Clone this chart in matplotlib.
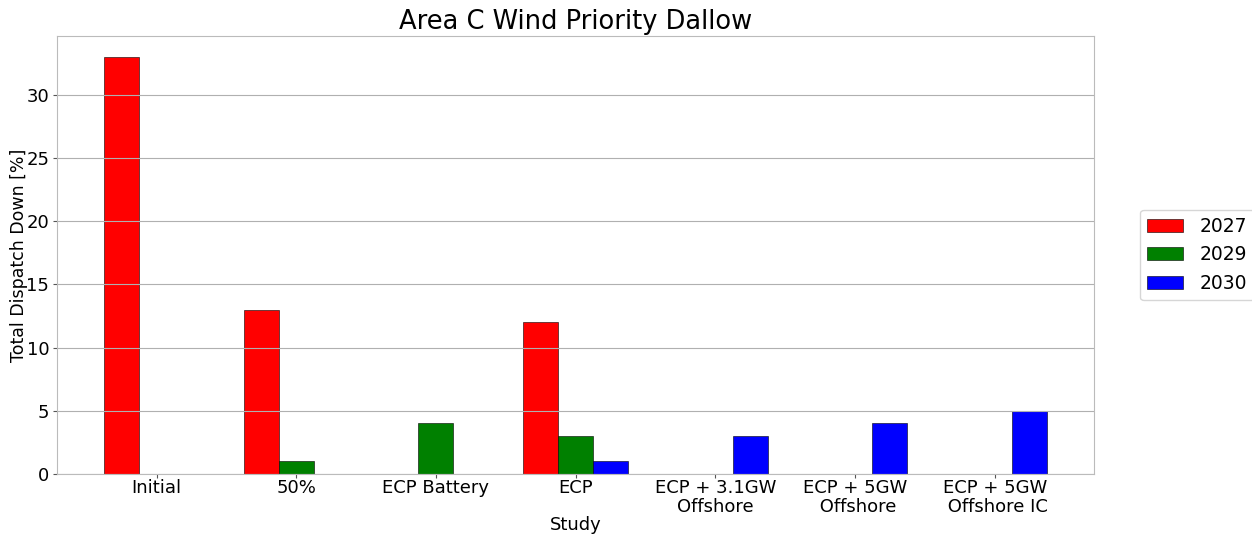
import matplotlib
matplotlib.use('Agg')
import matplotlib.pyplot as plt
import numpy as np

studies = ['Initial', '50%', 'ECP Battery', 'ECP', 'ECP + 3.1GW\nOffshore',
           'ECP + 5GW\n Offshore', 'ECP + 5GW\n Offshore IC']
years = ['2027', '2029', '2030']
dd_2027 = [33, 13, 0, 12, 0, 0, 0]
dd_2029 = [0, 1, 4, 3, 0, 0, 0]
dd_2030 = [0, 0, 0, 1, 3, 4, 5]
colors = ['red', 'green', 'blue']

fig = plt.figure(figsize=(12.52, 5.37), dpi=100)
ax = fig.add_axes([0.0455, 0.1173, 0.8285, 0.8157])

x = np.arange(len(studies))
width = 0.25
for i, (vals, year) in enumerate(zip([dd_2027, dd_2029, dd_2030], years)):
    ax.bar(x + (i - 1) * width, vals, width, color=colors[i], label=year,
           edgecolor='black', linewidth=0.4)

ax.set_xticks(x)
ax.set_xticklabels(studies, fontsize=13, linespacing=1.1)
ax.tick_params(axis='y', labelsize=13)
ax.tick_params(colors='#555555', labelcolor='black', length=3, pad=2.5)
ax.tick_params(axis='x', pad=0.5)
ax.yaxis.grid(True, color='#b0b0b0', linewidth=0.8)
for s in ax.spines.values():
    s.set_color('#bbbbbb')

ax.set_title('Area C Wind Priority Dallow', fontsize=18.5, pad=5)
ax.set_xlabel('Study', fontsize=13, labelpad=0)
ax.set_ylabel('Total Dispatch Down [%]', fontsize=12.5, labelpad=-1)
ax.legend(loc='center left', bbox_to_anchor=(1.044, 0.5), borderaxespad=0,
          fontsize=13.5, handlelength=1.9, handletextpad=0.9)

fig.savefig('out.png')
